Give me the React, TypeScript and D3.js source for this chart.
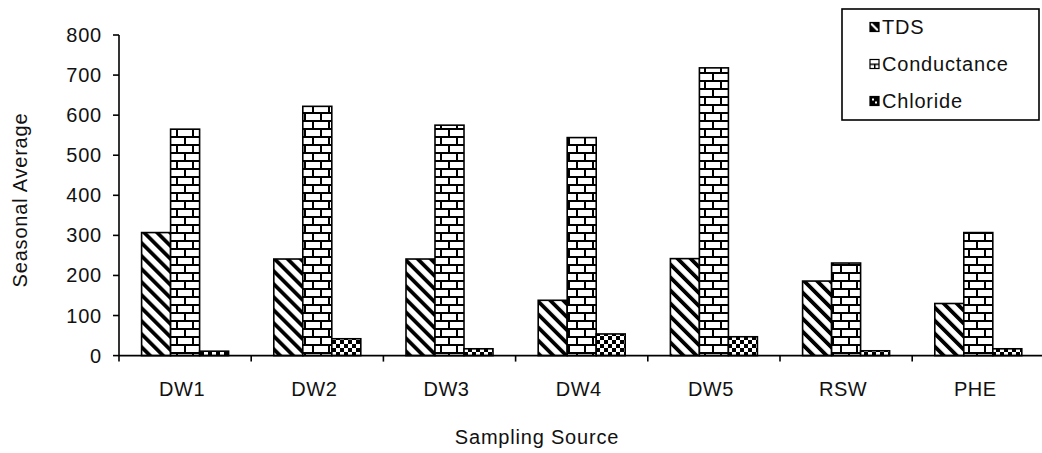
import React from 'react'
import * as d3 from 'd3'

// chart data
const categories = ['DW1', 'DW2', 'DW3', 'DW4', 'DW5', 'RSW', 'PHE']
const seriesNames = ['TDS', 'Conductance', 'Chloride']
const tds = [307, 241, 241, 138, 242, 186, 130]
const conductance = [565, 622, 575, 544, 718, 231, 307]
const chloride = [11, 42, 17, 54, 47, 12, 17]
const yTicks = [0, 100, 200, 300, 400, 500, 600, 700, 800]

const seriesValues = [tds, conductance, chloride]
const patternIds = ['pat-tds', 'pat-cond', 'pat-chl']
const swatchIds = ['sw-tds', 'sw-cond', 'sw-chl']

const width = 1042
const height = 453
const left = 119
const bottom = 355.6
const top = 35
const bandW = 132.2
const font = '"Liberation Sans", Arial, sans-serif'

export default function App() {
  const x = d3.scaleBand()
    .domain(categories)
    .range([left, left + bandW * categories.length])
    .padding(0)

  const xs = d3.scaleBand()
    .domain(seriesNames)
    .range([22.6, x.bandwidth() - 22.6])
    .padding(0)

  const y = d3.scaleLinear()
    .domain([0, 800])
    .range([bottom, top])

  const legendRows = [27, 64, 101]

  return (
    <svg width={width} height={height} style={{ position: 'absolute', left: 0, top: 0, background: '#fff' }}>
      <defs>
        {/* diagonal stripes, "\" direction */}
        <pattern id="pat-tds" width="9.2" height="9.2" patternUnits="userSpaceOnUse" patternTransform="rotate(-45)">
          <rect width="9.2" height="9.2" fill="#fff" />
          <rect x="0" y="0" width="3.8" height="9.2" fill="#000" />
        </pattern>
        {/* horizontal brick */}
        <pattern id="pat-cond" width="16" height="16" patternUnits="userSpaceOnUse">
          <rect width="16" height="16" fill="#fff" />
          <rect x="0" y="0" width="16" height="2" fill="#000" />
          <rect x="0" y="8" width="16" height="2" fill="#000" />
          <rect x="0" y="0" width="2" height="8" fill="#000" />
          <rect x="8" y="8" width="2" height="8" fill="#000" />
        </pattern>
        {/* small checker */}
        <pattern id="pat-chl" width="8" height="8" patternUnits="userSpaceOnUse">
          <rect width="8" height="8" fill="#fff" />
          <rect x="0" y="0" width="4" height="4" fill="#000" />
          <rect x="4" y="4" width="4" height="4" fill="#000" />
        </pattern>

        {/* legend swatches, drawn small like the original */}
        <pattern id="sw-tds" width="9" height="9" patternUnits="objectBoundingBox" patternContentUnits="userSpaceOnUse">
          <rect width="9" height="9" fill="#000" />
          <path d="M1,1 L8,8" stroke="#fff" strokeWidth="2.2" />
        </pattern>
        <pattern id="sw-cond" width="9" height="9" patternUnits="objectBoundingBox" patternContentUnits="userSpaceOnUse">
          <rect width="9" height="9" fill="#fff" />
          <rect x="0" y="4" width="9" height="1.5" fill="#000" />
          <rect x="4" y="4" width="1.5" height="5" fill="#000" />
        </pattern>
        <pattern id="sw-chl" width="9" height="9" patternUnits="objectBoundingBox" patternContentUnits="userSpaceOnUse">
          <rect width="9" height="9" fill="#000" />
          <rect x="2" y="2" width="2" height="2" fill="#fff" />
          <rect x="5" y="5" width="2" height="2" fill="#fff" />
        </pattern>
      </defs>

      {/* bars */}
      {seriesValues.map((vals, si) => (
        <g key={seriesNames[si]}>
          {vals.map((v, ci) => (
            <rect
              key={categories[ci]}
              x={(x(categories[ci]) as number) + (xs(seriesNames[si]) as number)}
              y={y(v)}
              width={xs.bandwidth()}
              height={bottom - y(v)}
              fill={`url(#${patternIds[si]})`}
              stroke="#000"
              strokeWidth={1.6}
            />
          ))}
        </g>
      ))}

      {/* y axis */}
      <line x1={left} x2={left} y1={top} y2={bottom + 6} stroke="#000" strokeWidth={1.6} />
      {yTicks.map(t => (
        <g key={t}>
          <line x1={left - 6} x2={left} y1={y(t)} y2={y(t)} stroke="#000" strokeWidth={1.6} />
          <text x={102} y={y(t)} dy="0.35em" textAnchor="end" fontFamily={font} fontSize={20} letterSpacing={0.8} fill="#111">{t}</text>
        </g>
      ))}

      {/* x axis */}
      <line x1={left} x2={left + bandW * categories.length} y1={bottom} y2={bottom} stroke="#000" strokeWidth={1.6} />
      {categories.map(c => (
        <g key={c}>
          <line x1={(x(c) as number) + bandW} x2={(x(c) as number) + bandW} y1={bottom} y2={bottom + 6} stroke="#000" strokeWidth={1.6} />
          <text x={(x(c) as number) + bandW / 2 - 3} y={389} dy="0.35em" textAnchor="middle" fontFamily={font} fontSize={20} letterSpacing={0.5} fill="#111">{c}</text>
        </g>
      ))}

      {/* axis titles */}
      <text transform="translate(20,200) rotate(-90)" dy="0.35em" textAnchor="middle" fontFamily={font} fontSize={20} letterSpacing={0.8} fill="#111">Seasonal Average</text>
      <text x={537} y={437} dy="0.35em" textAnchor="middle" fontFamily={font} fontSize={20} letterSpacing={0.8} fill="#111">Sampling Source</text>

      {/* legend */}
      <rect x={842} y={9} width={197} height={111} fill="#fff" stroke="#000" strokeWidth={1.6} />
      {seriesNames.map((s, i) => (
        <g key={s}>
          <rect x={870} y={legendRows[i] - 4.5} width={9} height={9} fill={`url(#${swatchIds[i]})`} stroke="#000" strokeWidth={1.2} />
          <text x={882} y={legendRows[i]} dy="0.35em" fontFamily={font} fontSize={20} letterSpacing={0.8} fill="#111">{s}</text>
        </g>
      ))}
    </svg>
  )
}
